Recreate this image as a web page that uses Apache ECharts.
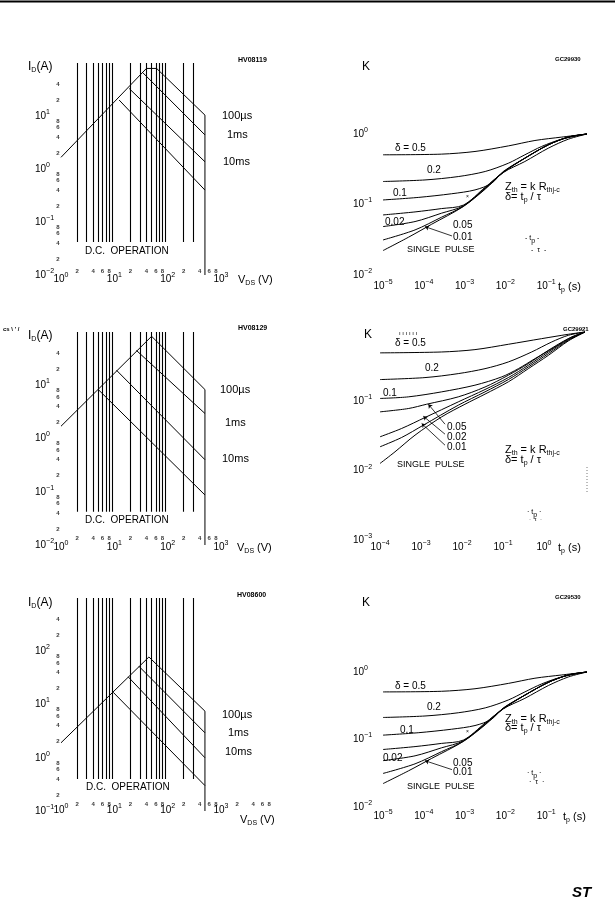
<!DOCTYPE html>
<html lang="en">
<head>
<meta charset="UTF-8">
<title>Safe operating area / thermal impedance</title>
<script src="https://cdn.jsdelivr.net/npm/echarts@6/dist/echarts.min.js"></script>
<style>
  html, body { margin: 0; padding: 0; background: #fff; }
  #main { width: 615px; height: 908px; }
</style>
</head>
<body>
<div id="main"></div>
<script type="text/javascript">
// ---------- values ----------
// SOA plots: vertical grid lines (V) and their extent (A)
var soaGridV = [2, 3, 4, 5, 6, 7, 8, 9, 20, 30, 40, 50, 60, 70, 80, 90, 200, 300];
var soaSpan1 = [0.042, 100];
var soaSpan3 = [0.042, 100];
var soaSpan5 = [0.4, 1000];
// minor tick digits
var soaMinorX = [2, 4, 6, 8, 20, 40, 60, 80, 200, 400, 600, 800];
var soa5MinorX = [2, 4, 6, 8, 20, 40, 60, 80, 200, 400, 600, 800, 2000, 4000, 6000, 8000];
var soaMinorY = [0.02, 0.04, 0.06, 0.08, 0.2, 0.4, 0.6, 0.8, 2, 4, 6, 8, 20, 40];
var soa5MinorY = [0.2, 0.4, 0.6, 0.8, 2, 4, 6, 8, 20, 40, 60, 80, 200, 400];

// SOA 1 (top left)  [V, A]
var soa1Rds   = [[1, 1.66], [40, 79]];
var soa1Us100 = [[40, 79], [62, 79], [500, 10.4]];
var soa1Ms1   = [[34, 66], [500, 4.4]];
var soa1Ms10  = [[19, 33], [500, 1.37]];
var soa1Dc    = [[12.3, 20], [500, 0.4]];
var soa1Edge  = [[500, 10.4], [500, 0.01]];
// SOA 2 (middle left)
var soa3Rds   = [[1, 1.7], [50, 83]];
var soa3Us100 = [[50, 83], [500, 8.3]];
var soa3Ms1   = [[26, 45], [500, 2.95]];
var soa3Ms10  = [[11, 19.1], [500, 0.4]];
var soa3Dc    = [[5, 8.3], [500, 0.087]];
var soa3Edge  = [[500, 8.3], [500, 0.01]];
// SOA 3 (bottom left)
var soa5Rds   = [[1, 1.91], [44.5, 78]];
var soa5Us100 = [[44.5, 78], [500, 7.5]];
var soa5Ms1   = [[29, 52], [500, 2.94]];
var soa5Ms10  = [[18.2, 33], [500, 1.0]];
var soa5Dc    = [[9.5, 17], [500, 0.3]];
var soa5Edge  = [[500, 7.5], [500, 0.1]];

// thermal impedance, top right and bottom right  [tp (s), K]
var k05A  = [[1e-5, 0.507], [2.7e-4, 0.518], [1.8e-3, 0.565], [1.2e-2, 0.679], [5.3e-2, 0.809], [0.24, 0.904], [1, 1]];
var k02A  = [[1e-5, 0.212], [1.07e-4, 0.223], [7e-4, 0.249], [3.2e-3, 0.294], [1.18e-2, 0.385], [3.0e-2, 0.507], [7.7e-2, 0.665], [0.24, 0.845], [1, 1]];
var k01A  = [[1e-5, 0.116], [7.3e-5, 0.126], [4.8e-4, 0.142], [1.8e-3, 0.161], [4.6e-3, 0.2], [8.9e-3, 0.294], [3.0e-2, 0.454], [0.113, 0.703], [0.35, 0.904], [1, 1]];
var k005A = [[1e-5, 0.0711], [6.1e-5, 0.0785], [2.7e-4, 0.0875], [9.3e-4, 0.098], [3.2e-3, 0.176], [8.9e-3, 0.287], [3.0e-2, 0.454], [0.113, 0.703], [0.35, 0.904], [1, 1]];
var k002A = [[1e-5, 0.0486], [6.1e-5, 0.0573], [2.7e-4, 0.0752], [9.3e-4, 0.0955], [3.2e-3, 0.172], [8.9e-3, 0.29], [3.0e-2, 0.454], [0.113, 0.703], [0.35, 0.904], [1, 1]];
var k001A = [[1e-5, 0.0314], [6.1e-5, 0.0436], [2.7e-4, 0.0659], [9.3e-4, 0.0944], [3.2e-3, 0.168], [8.9e-3, 0.287], [3.0e-2, 0.454], [0.113, 0.703], [0.35, 0.904], [1, 1]];
var kSpA  = [[1e-5, 0.0222], [4.2e-5, 0.0343], [1.56e-4, 0.0525], [9.3e-4, 0.0935], [3.2e-3, 0.165], [8.9e-3, 0.284], [3.0e-2, 0.407], [0.113, 0.63], [0.35, 0.845], [1, 1]];
var leadA = [[1.07e-4, 0.0485], [4.9e-4, 0.0358]];

// thermal impedance, middle right
var k05B  = [[1e-4, 0.5], [3.2e-3, 0.515], [0.0207, 0.557], [0.135, 0.665], [0.877, 0.802], [3.92, 0.927], [10, 1]];
var k02B  = [[1e-4, 0.206], [1.25e-3, 0.22], [8.1e-3, 0.251], [0.0364, 0.296], [0.135, 0.37], [0.5, 0.515], [1.54, 0.718], [3.92, 0.896], [10, 1]];
var k01B  = [[1e-4, 0.11], [4.9e-4, 0.116], [3.2e-3, 0.137], [0.0207, 0.171], [0.0927, 0.225], [0.237, 0.296], [0.603, 0.413], [1.85, 0.608], [4.73, 0.847], [10, 1]];
var k005B = [[1e-4, 0.0705], [4.9e-4, 0.0787], [1.37e-3, 0.0908], [8.1e-3, 0.116], [0.0364, 0.161], [0.135, 0.238], [0.415, 0.35], [1.28, 0.545], [3.92, 0.802], [10, 1]];
var k002B = [[1e-4, 0.0308], [3.37e-4, 0.0406], [1.25e-3, 0.0584], [8.1e-3, 0.0982], [0.0364, 0.148], [0.135, 0.22], [0.415, 0.331], [1.28, 0.515], [3.92, 0.776], [10, 1]];
var k001B = [[1e-4, 0.0221], [3.37e-4, 0.0301], [1.14e-3, 0.0453], [8.1e-3, 0.0879], [0.0364, 0.137], [0.135, 0.206], [0.415, 0.313], [1.28, 0.488], [3.92, 0.759], [10, 1]];
var kSpB  = [[1e-4, 0.0127], [2.32e-4, 0.0187], [7.14e-4, 0.0325], [3.19e-3, 0.0597], [0.0118, 0.0908], [0.0364, 0.127], [0.135, 0.191], [0.415, 0.296], [1.28, 0.461], [3.92, 0.743], [10, 1]];
var lead005B = [[1.51e-3, 0.0908], [3.85e-3, 0.0468]];
var lead002B = [[1.14e-3, 0.061], [3.85e-3, 0.0336]];
var lead001B = [[1.04e-3, 0.0479], [3.85e-3, 0.0233]];

// ---------- chart ----------
var FONT = '"Liberation Sans", Arial, Helvetica, sans-serif';
var INK = '#000';

var AXIS_RICH = {
    b: { fontSize: 10, fontFamily: FONT, color: INK },
    s: { fontSize: 7, fontFamily: FONT, color: INK, padding: [0, 0, 8, 0] }
};
var TEXT_RICH = {
    sub: { fontSize: 7, fontFamily: FONT, fill: INK, padding: [6, 0, 0, 0] }
};

function pow10Label(v) {
    var e = Math.round(Math.log(v) / Math.LN10);
    return '{b|10}{s|' + (e < 0 ? '\u2212' + (-e) : e) + '}';
}

function logAxis(g, min, max, margin, hideMax, isX) {
    return {
        type: 'log', logBase: 10, gridIndex: g, min: min, max: max, splitNumber: 10,
        axisLine: { show: false }, axisTick: { show: false }, splitLine: { show: false },
        axisLabel: {
            margin: margin,
            align: isX ? 'center' : 'left',
            verticalAlign: isX ? 'top' : 'middle',
            showMinLabel: true, showMaxLabel: true, hideOverlap: false,
            formatter: function (v) {
                if (hideMax && v > max * 0.9) return '';
                return pow10Label(v);
            },
            rich: AXIS_RICH
        }
    };
}

function curve(g, data, smooth) {
    return {
        type: 'line', xAxisIndex: g, yAxisIndex: g, data: data,
        symbol: 'none', showSymbol: false, smooth: smooth ? 0.3 : false,
        clip: false, silent: true,
        lineStyle: { color: INK, width: 1 }
    };
}

function gridLines(g, xs, span) {
    return {
        type: 'lines', coordinateSystem: 'cartesian2d', xAxisIndex: g, yAxisIndex: g, silent: true,
        lineStyle: { color: INK, width: 1.1, opacity: 1 },
        data: xs.map(function (v) { return { coords: [[v, span[0]], [v, span[1]]] }; })
    };
}

function leaders(g, list) {
    return {
        type: 'lines', coordinateSystem: 'cartesian2d', xAxisIndex: g, yAxisIndex: g, silent: true,
        symbol: ['arrow', 'none'], symbolSize: 4,
        lineStyle: { color: INK, width: 0.8, opacity: 1 },
        data: list.map(function (c) { return { coords: c }; })
    };
}

function leadDigit(v) {
    var p = Math.pow(10, Math.floor(Math.log(v) / Math.LN10 + 1e-9));
    return String(Math.round(v / p));
}

function minorLabels(g, vals, xMin, yMin, onX, dist) {
    return {
        type: 'scatter', xAxisIndex: g, yAxisIndex: g, silent: true, clip: false,
        symbolSize: 1, itemStyle: { color: 'rgba(0,0,0,0)' },
        data: vals.map(function (v) { return onX ? [v, yMin] : [xMin, v]; }),
        label: {
            show: true, position: onX ? 'top' : 'left', distance: dist,
            fontSize: 6, fontWeight: 'bold', fontFamily: FONT, color: INK,
            formatter: function (p) { return leadDigit(onX ? p.value[0] : p.value[1]); }
        }
    };
}

var grids = [
    { left: 61,  top: 63,  width: 160, height: 212 },
    { left: 383, top: 134, width: 204, height: 141 },
    { left: 61,  top: 332, width: 160, height: 213 },
    { left: 380, top: 332, width: 205, height: 208 },
    { left: 61,  top: 598, width: 160, height: 213 },
    { left: 383, top: 672, width: 204, height: 135 }
];

var xAxes = [
    logAxis(0, 1, 1000, -3, false, true),
    logAxis(1, 1e-5, 1, 4, true, true),
    logAxis(2, 1, 1000, -5, false, true),
    logAxis(3, 1e-4, 10, 0, true, true),
    logAxis(4, 1, 1000, -8, false, true),
    logAxis(5, 1e-5, 1, 2, true, true)
];
var yAxes = [
    logAxis(0, 0.01, 100, 26, true, false),
    logAxis(1, 0.01, 1, 30, false, false),
    logAxis(2, 0.01, 100, 26, true, false),
    logAxis(3, 0.001, 1, 27, true, false),
    logAxis(4, 0.1, 1000, 26, true, false),
    logAxis(5, 0.01, 1, 30, false, false)
];

var series = [
    // SOA top
    gridLines(0, soaGridV, soaSpan1),
    curve(0, soa1Rds), curve(0, soa1Us100), curve(0, soa1Ms1), curve(0, soa1Ms10), curve(0, soa1Dc), curve(0, soa1Edge),
    minorLabels(0, soaMinorX, 1, 0.01, true, 0),
    minorLabels(0, soaMinorY, 1, 0.01, false, 1),
    // SOA middle
    gridLines(2, soaGridV, soaSpan3),
    curve(2, soa3Rds), curve(2, soa3Us100), curve(2, soa3Ms1), curve(2, soa3Ms10), curve(2, soa3Dc), curve(2, soa3Edge),
    minorLabels(2, soaMinorX, 1, 0.01, true, 3),
    minorLabels(2, soaMinorY, 1, 0.01, false, 1),
    // SOA bottom
    gridLines(4, soaGridV, soaSpan5),
    curve(4, soa5Rds), curve(4, soa5Us100), curve(4, soa5Ms1), curve(4, soa5Ms10), curve(4, soa5Dc), curve(4, soa5Edge),
    minorLabels(4, soa5MinorX, 1, 0.1, true, 3),
    minorLabels(4, soa5MinorY, 1, 0.1, false, 1),
    // K top
    curve(1, k05A, true), curve(1, k02A, true), curve(1, k01A, true), curve(1, k005A, true),
    curve(1, k002A, true), curve(1, k001A, true), curve(1, kSpA, true),
    leaders(1, [leadA]),
    // K middle
    curve(3, k05B, true), curve(3, k02B, true), curve(3, k01B, true), curve(3, k005B, true),
    curve(3, k002B, true), curve(3, k001B, true), curve(3, kSpB, true),
    leaders(3, [lead005B, lead002B, lead001B]),
    // K bottom
    curve(5, k05A, true), curve(5, k02A, true), curve(5, k01A, true), curve(5, k005A, true),
    curve(5, k002A, true), curve(5, k001A, true), curve(5, kSpA, true),
    leaders(5, [leadA])
];

// free text placed on the page: [x, y, text, size, weight]
var notes = [
    [28, 67, 'I{sub|D}(A)', 12], [238, 60, 'HV08119', 7, 'bold'],
    [222, 116, '100\u00b5s', 11], [227, 135, '1ms', 11], [223, 162, '10ms', 11],
    [85, 251, 'D.C.  OPERATION', 10], [238, 280, 'V{sub|DS} (V)', 11],

    [362, 67, 'K', 12], [555, 59, 'GC29930', 6, 'bold'],
    [395, 148, '\u03b4 = 0.5', 10], [427, 170, '0.2', 10], [393, 193, '0.1', 10],
    [385, 222, '0.02', 10], [453, 225, '0.05', 10], [453, 237, '0.01', 10],
    [407, 250, 'SINGLE  PULSE', 9],
    [505, 187, 'Z{sub|th} = k R{sub|thj-c}', 11], [505, 197, '\u03b4= t{sub|p} / \u03c4', 11],
    [525, 238, '- t{sub|p} -', 7], [531, 250, '-  \u03c4  -', 7],
    [558, 287, 't{sub|p} (s)', 11], [466, 197, '\u00d7', 5],

    [28, 336, 'I{sub|D}(A)', 12], [3, 329, 'cs \\ \' /', 6, 'bold'], [238, 328, 'HV08129', 7, 'bold'],
    [220, 390, '100\u00b5s', 11], [225, 423, '1ms', 11], [222, 459, '10ms', 11],
    [85, 520, 'D.C.  OPERATION', 10], [237, 548, 'V{sub|DS} (V)', 11],

    [364, 335, 'K', 12], [563, 329, 'GC29921', 6, 'bold'], [399, 333, '\u0131 \u0131 \u0131 \u0131 \u0131 \u0131', 6],
    [395, 343, '\u03b4 = 0.5', 10], [425, 368, '0.2', 10], [383, 393, '0.1', 10],
    [447, 427, '0.05', 10], [447, 437, '0.02', 10], [447, 447, '0.01', 10],
    [397, 465, 'SINGLE  PULSE', 9],
    [505, 450, 'Z{sub|th} = k R{sub|thj-c}', 11], [505, 460, '\u03b4= t{sub|p} / \u03c4', 11],
    [527, 512, '\u00b7 t{sub|p} \u00b7', 7], [529, 519, '\u00b7  \u03c4  \u00b7', 6],
    [558, 548, 't{sub|p} (s)', 11],

    [28, 603, 'I{sub|D}(A)', 12], [237, 595, 'HV08600', 7, 'bold'],
    [222, 715, '100\u00b5s', 11], [228, 733, '1ms', 11], [225, 752, '10ms', 11],
    [86, 787, 'D.C.  OPERATION', 10], [240, 820, 'V{sub|DS} (V)', 11],

    [362, 603, 'K', 12], [555, 597, 'GC29530', 6, 'bold'],
    [395, 686, '\u03b4 = 0.5', 10], [427, 707, '0.2', 10], [400, 730, '0.1', 10],
    [383, 758, '0.02', 10], [453, 763, '0.05', 10], [453, 772, '0.01', 10],
    [407, 787, 'SINGLE  PULSE', 9],
    [505, 719, 'Z{sub|th} = k R{sub|thj-c}', 11], [505, 728, '\u03b4= t{sub|p} / \u03c4', 11],
    [527, 773, '\u00b7 t{sub|p} \u00b7', 7], [529, 782, '\u00b7  \u03c4  \u00b7', 7],
    [563, 817, 't{sub|p} (s)', 11], [466, 732, '\u00d7', 5]
];

var graphics = notes.map(function (n) {
    return {
        type: 'text', silent: true,
        style: {
            x: n[0], y: n[1], text: n[2], fill: INK,
            fontSize: n[3], fontFamily: FONT, fontWeight: n[4] || 'normal',
            align: 'left', verticalAlign: 'middle', textAlign: 'left', textVerticalAlign: 'middle',
            rich: TEXT_RICH
        }
    };
});
// page rule at the top, logo at the foot
graphics.push({ type: 'line', silent: true, shape: { x1: 0, y1: 1.5, x2: 615, y2: 1.5 }, style: { stroke: INK, lineWidth: 2 } });
graphics.push({ type: 'line', silent: true, shape: { x1: 587, y1: 467, x2: 587, y2: 493 }, style: { stroke: '#555', lineWidth: 0.8, lineDash: [1, 2] } });
graphics.push({
    type: 'text', silent: true,
    style: { x: 572, y: 893, text: 'ST', fill: INK, fontSize: 15, fontWeight: 'bold', fontStyle: 'italic', fontFamily: FONT, verticalAlign: 'middle', textVerticalAlign: 'middle' }
});

var chart = echarts.init(document.getElementById('main'));
chart.setOption({
    animation: false,
    backgroundColor: '#fff',
    textStyle: { fontFamily: FONT, color: INK },
    grid: grids,
    xAxis: xAxes,
    yAxis: yAxes,
    series: series,
    graphic: graphics
});
</script>
</body>
</html>
